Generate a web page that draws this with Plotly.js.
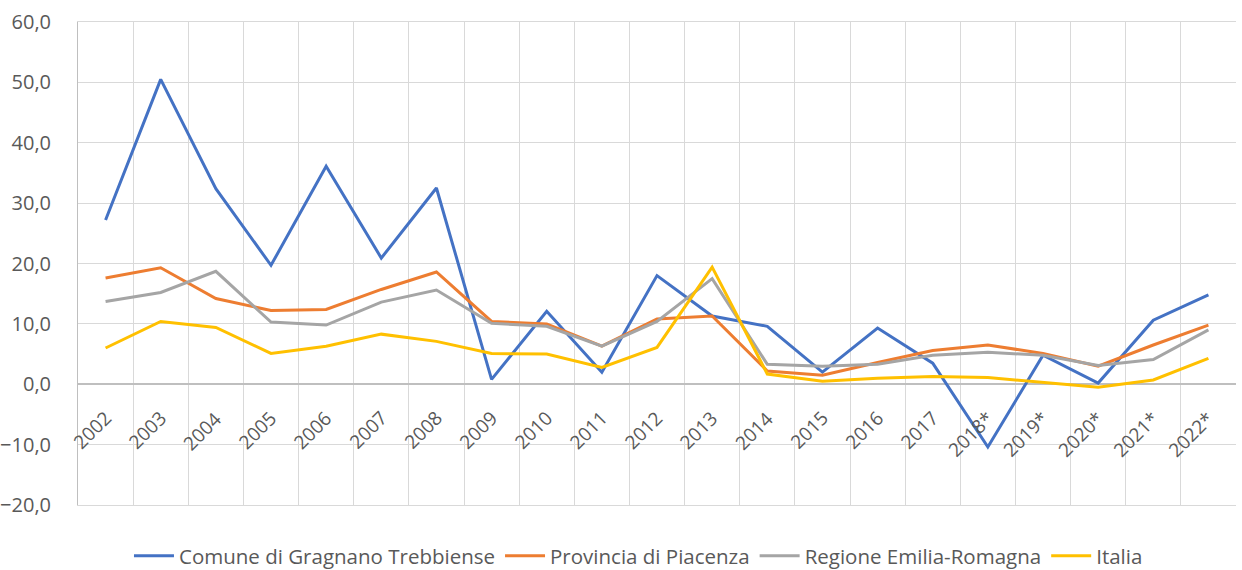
<!DOCTYPE html>
<html>
<head>
<meta charset="utf-8">
<script src="https://cdn.plot.ly/plotly-3.0.1.min.js"></script>
<style>html,body{margin:0;padding:0;background:#fff;}#chart{width:1242px;height:570px;}</style>
</head>
<body>
<div id="chart"></div>
<script>
var categories = ["2002","2003","2004","2005","2006","2007","2008","2009","2010","2011","2012","2013","2014","2015","2016","2017","2018*","2019*","2020*","2021*","2022*"];
var comune   = [27.2, 50.5, 32.4, 19.7, 36.1, 20.9, 32.5, 0.8, 12.1, 2.0, 18.0, 11.3, 9.6, 2.0, 9.3, 3.5, -10.4, 4.8, 0.2, 10.6, 14.8];
var provincia= [17.6, 19.3, 14.2, 12.2, 12.4, 15.7, 18.6, 10.4, 10.0, 6.3, 10.8, 11.3, 2.2, 1.5, 3.6, 5.6, 6.5, 5.1, 3.0, 6.5, 9.8];
var regione  = [13.7, 15.2, 18.7, 10.3, 9.8, 13.6, 15.6, 10.1, 9.6, 6.3, 10.4, 17.5, 3.3, 3.0, 3.3, 4.8, 5.3, 4.8, 3.1, 4.1, 9.0];
var italia   = [6.0, 10.4, 9.4, 5.1, 6.3, 8.3, 7.1, 5.1, 5.0, 2.8, 6.1, 19.4, 1.7, 0.5, 1.0, 1.3, 1.1, 0.3, -0.5, 0.7, 4.3];
var seriesNames = ["Comune di Gragnano Trebbiense", "Provincia di Piacenza", "Regione Emilia-Romagna", "Italia"];
var yTicks = [-20, -10, 0, 10, 20, 30, 40, 50, 60];

var colors = ["#4472C4", "#ED7D31", "#A5A5A5", "#FFC000"];
var allSeries = [comune, provincia, regione, italia];
var FONT = "'Open Sans', 'Noto Sans', sans-serif";

var traces = allSeries.map(function (vals, i) {
  return {
    type: "scatter", mode: "lines",
    x: categories, y: vals, name: seriesNames[i],
    line: {color: colors[i], width: 3},
    hoverinfo: "x+y+name"
  };
});

var annotations = categories.map(function (c, i) {
  return {
    x: i, y: 0, xref: "x", yref: "y",
    text: c, showarrow: false, textangle: -45,
    xanchor: "right", yanchor: "top",
    xshift: 14, yshift: -19,
    font: {family: FONT, size: 19, color: "#595959"}
  };
});

var layout = {
  width: 1242, height: 570,
  margin: {l: 78, r: 6, t: 22, b: 65, autoexpand: false},
  paper_bgcolor: "#ffffff", plot_bgcolor: "#ffffff",
  separators: ",.",
  font: {family: FONT, size: 19, color: "#595959"},
  showlegend: true,
  legend: {
    orientation: "h", x: 0.484, xanchor: "center", y: -0.064, yanchor: "top",
    font: {family: FONT, size: 20.5, color: "#595959"},
    itemwidth: 40, traceorder: "normal"
  },
  xaxis: {
    type: "category", categoryorder: "array", categoryarray: categories,
    range: [-0.5, categories.length - 0.5],
    showticklabels: false, ticks: "",
    showgrid: true, gridcolor: "#d9d9d9", gridwidth: 1,
    tickson: "boundaries",
    showline: true, linecolor: "#d9d9d9", linewidth: 1, mirror: true,
    zeroline: false, fixedrange: true
  },
  yaxis: {
    range: [-20, 60], tickvals: yTicks, tickformat: ".1f",
    showgrid: true, gridcolor: "#d9d9d9", gridwidth: 1,
    zeroline: true, zerolinecolor: "#bfbfbf", zerolinewidth: 2,
    showline: true, linecolor: "#bfbfbf", linewidth: 1,
    ticks: "outside", ticklen: 22, tickcolor: "rgba(0,0,0,0)",
    tickfont: {family: FONT, size: 20, color: "#595959"},
    fixedrange: true
  },
  annotations: annotations
};

Plotly.newPlot("chart", traces, layout, {displayModeBar: false, staticPlot: true});
</script>
</body>
</html>
